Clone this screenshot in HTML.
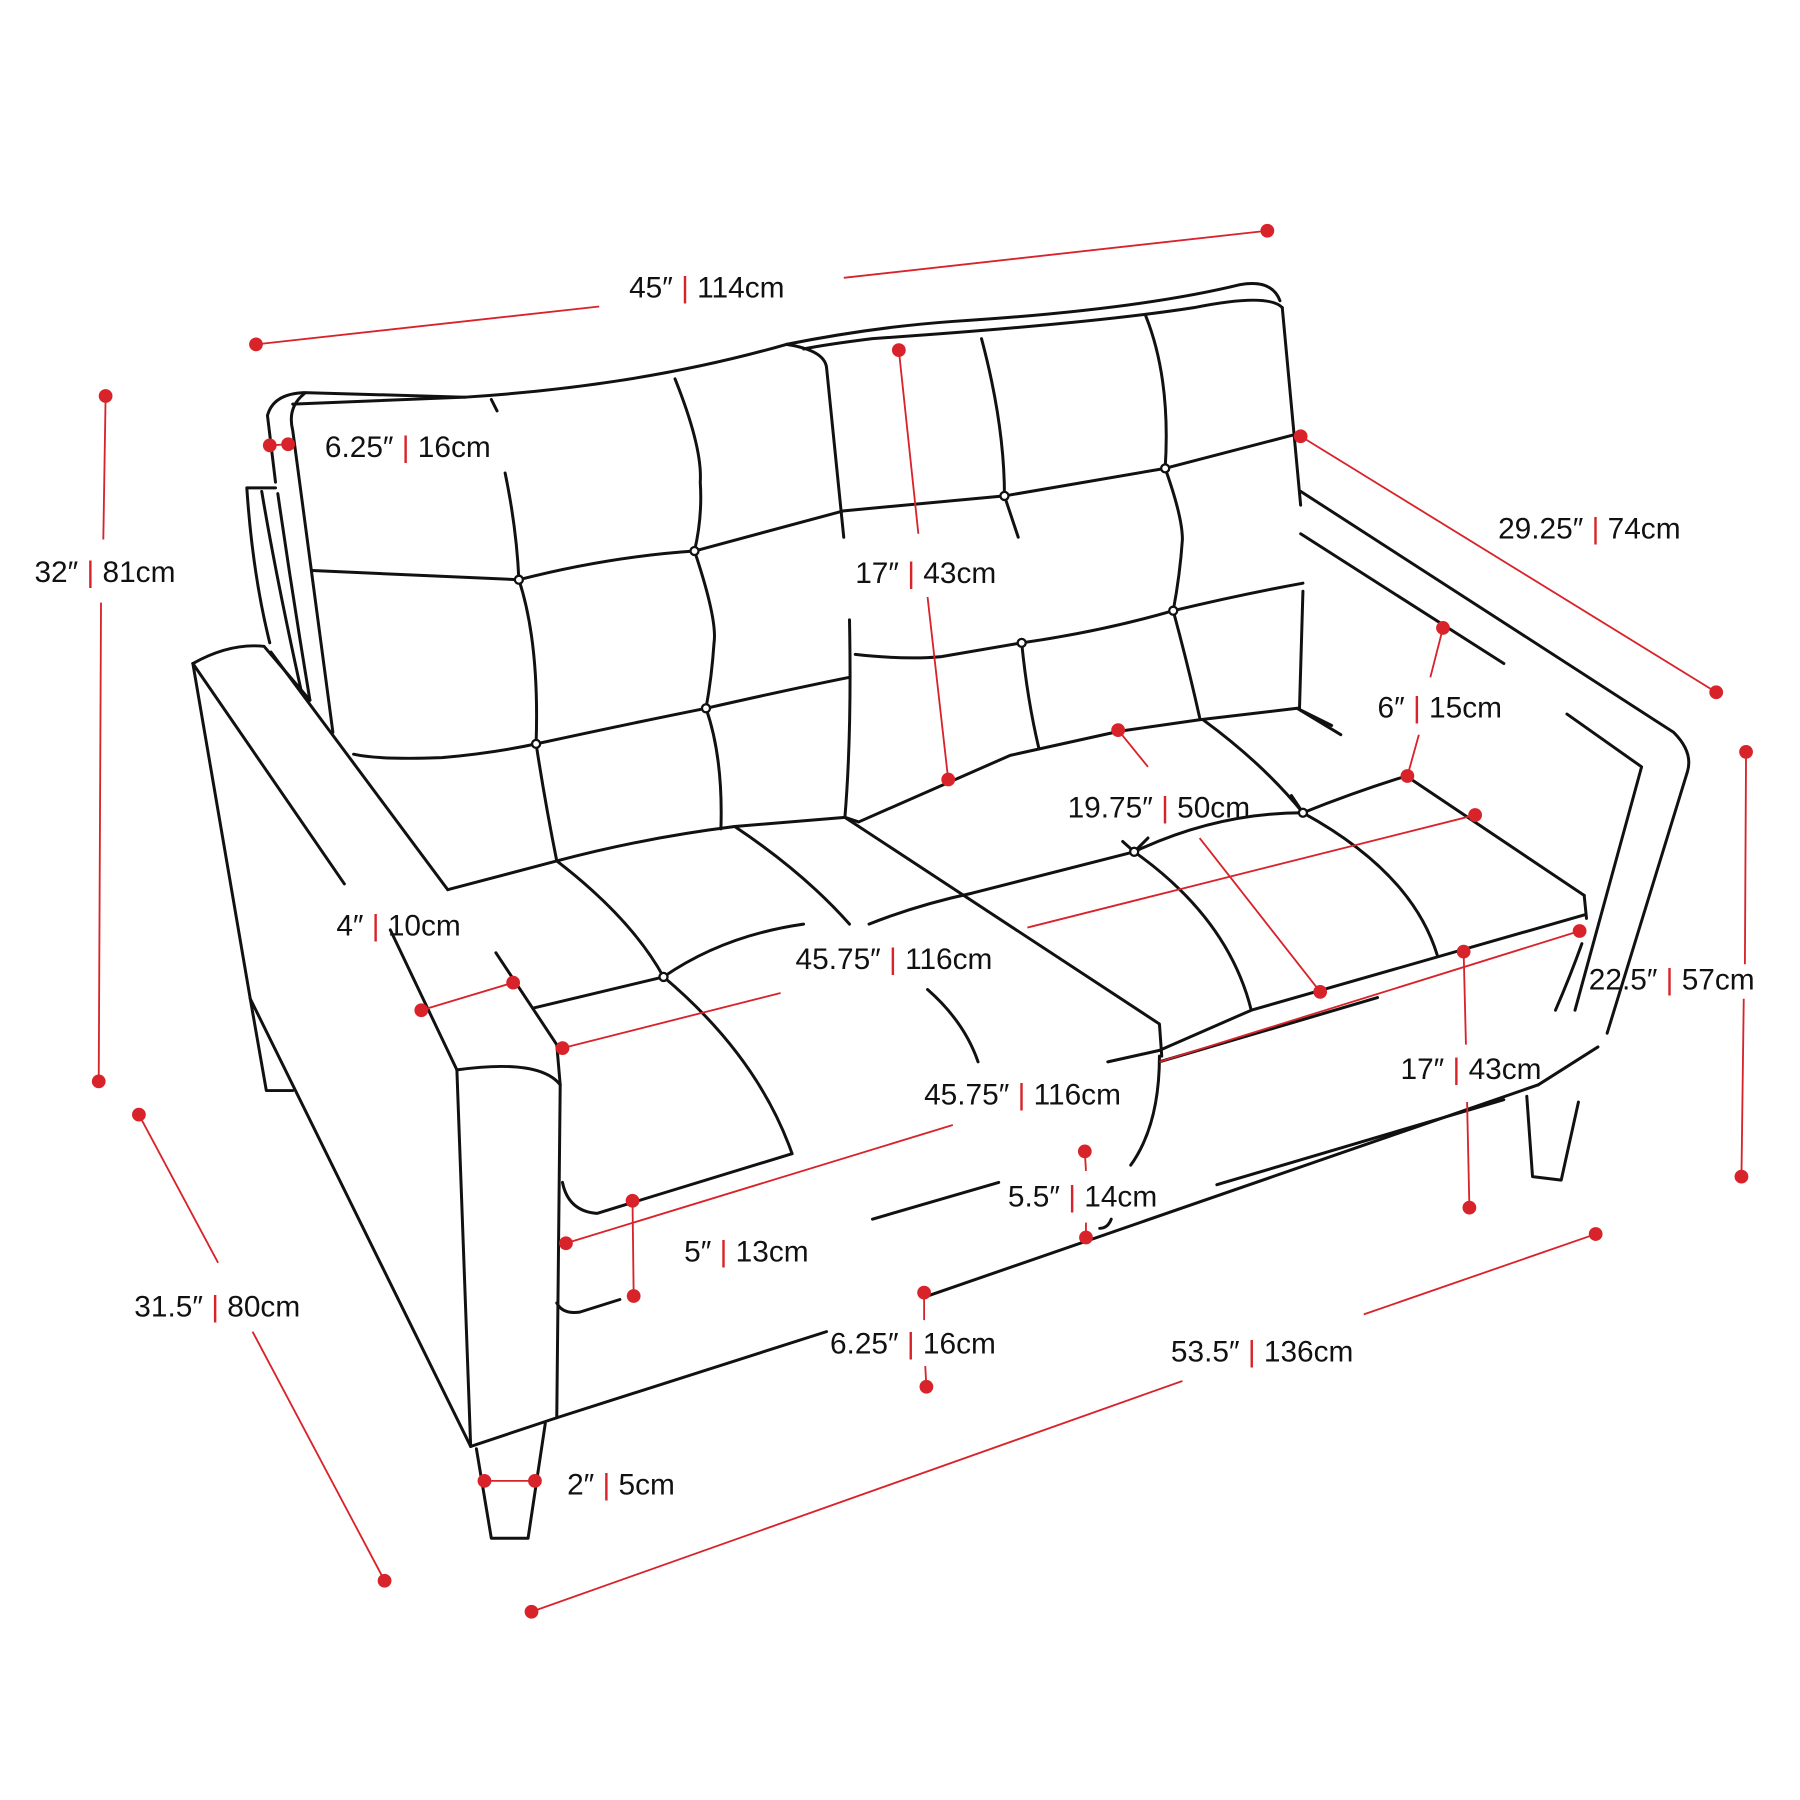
<!DOCTYPE html>
<html><head><meta charset="utf-8"><style>
html,body{margin:0;padding:0;background:#fff}
svg{display:block}
text{font-family:"Liberation Sans",sans-serif;font-size:26px;fill:#111}
.r{fill:#d8232a}
</style></head><body>
<svg width="1800" height="1800" viewBox="0 0 1568 1568" xmlns="http://www.w3.org/2000/svg">
<g fill="none" stroke="#111" stroke-width="2.6" stroke-linecap="round" stroke-linejoin="round">
<path d="M233,362 Q238,343 265,342 L405,346 Q560,336 685,300 Q760,285 830,280 Q990,270 1080,248 Q1108,243 1115,262"/>
<path d="M255,352 Q300,350 405,346 M700,304 Q720,300 760,295 Q950,282 1040,268 Q1105,255 1117,268"/>
<path d="M265,343 Q250,355 255,375 L290,638"/>
<path d="M233,362 L240,420"/>
<path d="M1117,268 L1133,440 M1135,515 L1132,617"/>
<path d="M685,300 Q718,305 720,320 L735,468 M740,540 Q742,640 736,712"/>
<path d="M215,425 L240,425 M215,425 Q220,500 235,560 M228,428 Q240,500 262,600 M242,430 Q255,520 270,610"/>
<path d="M272,497 L452,505 Q530,485 605,480 Q680,460 735,445 L875,432 L1015,408 L1130,378"/>
<path d="M308,657 Q330,662 385,660 Q430,656 467,648 Q550,630 615,617 Q690,600 740,590"/>
<path d="M745,570 Q790,575 820,572 L890,560 Q960,550 1022,532 Q1080,518 1135,508"/>
<path d="M428,348 L433,358 M440,412 Q450,460 452,505 Q470,560 467,648 Q475,700 485,750"/>
<path d="M588,330 Q612,390 610,420 Q612,450 605,480 Q625,540 622,560 Q620,590 615,617 Q630,660 628,722"/>
<path d="M855,295 Q875,370 875,432 L887,468 M890,560 Q895,610 905,652"/>
<path d="M998,275 Q1020,330 1015,408 Q1030,450 1030,470 Q1028,500 1022,532 Q1035,580 1045,625"/>
<path d="M390,775 L485,750 Q560,730 640,720 L736,712 L748,716 M748,716 L880,658 L975,637 L1045,627 L1130,617 L1168,640 M1225,676 L1380,780"/>
<path d="M1130,617 L1160,632"/>
<path d="M168,578 Q200,560 230,563 L270,610"/>
<path d="M168,578 L300,770 M340,810 L398,932"/>
<path d="M236,568 L390,775"/>
<path d="M432,830 L485,910 L488,945"/>
<path d="M168,578 L218,870 L232,950 L255,950"/>
<path d="M218,870 L410,1260"/>
<path d="M398,932 L410,1260"/>
<path d="M398,932 Q470,922 488,945 L485,1235"/>
<path d="M410,1260 L485,1235 L720,1160 M805,1130 L1340,945"/>
<path d="M415,1262 L428,1340 L460,1340 L475,1240"/>
<path d="M465,878 L578,851 M578,851 Q630,815 700,805"/>
<path d="M757,805 Q800,788 847,778 L988,742 M988,742 Q1060,708 1135,708 Q1180,690 1225,676"/>
<path d="M988,742 Q995,735 1000,730 M978,733 L988,742 M1125,693 L1135,708"/>
<path d="M485,750 Q550,800 578,851 Q660,920 690,1005"/>
<path d="M640,720 Q700,760 740,805"/>
<path d="M808,862 Q840,890 852,925"/>
<path d="M988,742 Q1070,800 1090,880"/>
<path d="M1048,627 Q1100,665 1135,708"/>
<path d="M1135,708 Q1230,760 1252,832"/>
<path d="M736,712 L1010,892 L1012,920 M1010,920 Q1010,980 985,1015"/>
<path d="M490,1030 Q495,1055 520,1057 L690,1005 M965,925 L1010,915 L1090,880 L1380,797"/>
<path d="M485,1135 Q490,1145 505,1143 L540,1132 M760,1062 L870,1030 M1060,1032 L1310,958"/>
<path d="M1010,925 L1200,869"/>
<path d="M958,1070 Q965,1070 968,1062"/>
<path d="M1133,428 L1458,638 Q1475,655 1470,672 L1400,900"/>
<path d="M1133,465 L1310,578 M1365,622 L1430,668 L1372,880"/>
<path d="M1380,780 L1382,800 M1378,822 Q1368,850 1355,880"/>
<path d="M1330,955 L1335,1025 L1360,1028 L1375,960"/>
<path d="M1340,945 L1392,912"/>
</g>
<g fill="#fff" stroke="#111" stroke-width="2">
<circle cx="452" cy="505" r="3.5"/><circle cx="605" cy="480" r="3.5"/><circle cx="875" cy="432" r="3.5"/><circle cx="1015" cy="408" r="3.5"/>
<circle cx="467" cy="648" r="3.5"/><circle cx="615" cy="617" r="3.5"/><circle cx="890" cy="560" r="3.5"/><circle cx="1022" cy="532" r="3.5"/>
<circle cx="578" cy="851" r="3.5"/><circle cx="988" cy="742" r="3.5"/><circle cx="1135" cy="708" r="3.5"/>
</g>
<g stroke="#d8232a" stroke-width="1.6" fill="none">
<path d="M223,300 L522,267 M735,242 L1104,201"/>
<path d="M92,345 L90,470 M88,525 L86,942"/>
<path d="M235,388 L251,387"/>
<path d="M783,305 L800,465 M808,520 L826,679"/>
<path d="M1133,380 L1495,603"/>
<path d="M1257,547 L1246,590 M1236,640 L1226,676"/>
<path d="M974,636 L1000,668 M1045,730 L1150,864"/>
<path d="M490,913 L680,865 M895,808 L1285,710"/>
<path d="M367,880 L447,856"/>
<path d="M493,1083 L830,980 M1010,925 L1376,811"/>
<path d="M1521,655 L1520,840 M1519,870 L1517,1025"/>
<path d="M1275,829 L1277,910 M1278,960 L1280,1052"/>
<path d="M945,1003 L946,1020 M946,1065 L946,1078"/>
<path d="M551,1046 L552,1129"/>
<path d="M805,1126 L805,1150 M806,1190 L807,1208"/>
<path d="M463,1404 L1030,1203 M1188,1145 L1390,1075"/>
<path d="M121,971 L190,1100 M220,1160 L335,1377"/>
<path d="M422,1290 L466,1290"/>
</g>
<g fill="#d8232a">
<circle cx="223" cy="300" r="6"/><circle cx="1104" cy="201" r="6"/>
<circle cx="92" cy="345" r="6"/><circle cx="86" cy="942" r="6"/>
<circle cx="235" cy="388" r="6"/><circle cx="251" cy="387" r="6"/>
<circle cx="783" cy="305" r="6"/><circle cx="826" cy="679" r="6"/>
<circle cx="1133" cy="380" r="6"/><circle cx="1495" cy="603" r="6"/>
<circle cx="1257" cy="547" r="6"/><circle cx="1226" cy="676" r="6"/>
<circle cx="974" cy="636" r="6"/><circle cx="1150" cy="864" r="6"/>
<circle cx="490" cy="913" r="6"/><circle cx="1285" cy="710" r="6"/>
<circle cx="367" cy="880" r="6"/><circle cx="447" cy="856" r="6"/>
<circle cx="493" cy="1083" r="6"/><circle cx="1376" cy="811" r="6"/>
<circle cx="1521" cy="655" r="6"/><circle cx="1517" cy="1025" r="6"/>
<circle cx="1275" cy="829" r="6"/><circle cx="1280" cy="1052" r="6"/>
<circle cx="945" cy="1003" r="6"/><circle cx="946" cy="1078" r="6"/>
<circle cx="551" cy="1046" r="6"/><circle cx="552" cy="1129" r="6"/>
<circle cx="805" cy="1126" r="6"/><circle cx="807" cy="1208" r="6"/>
<circle cx="463" cy="1404" r="6"/><circle cx="1390" cy="1075" r="6"/>
<circle cx="121" cy="971" r="6"/><circle cx="335" cy="1377" r="6"/>
<circle cx="422" cy="1290" r="6"/><circle cx="466" cy="1290" r="6"/>
</g>
<g>
<text x="548" y="259">45″ <tspan class="r">|</tspan> 114cm</text>
<text x="30" y="507">32″ <tspan class="r">|</tspan> 81cm</text>
<text x="283" y="398">6.25″ <tspan class="r">|</tspan> 16cm</text>
<text x="745" y="508">17″ <tspan class="r">|</tspan> 43cm</text>
<text x="1305" y="469">29.25″ <tspan class="r">|</tspan> 74cm</text>
<text x="1200" y="625">6″ <tspan class="r">|</tspan> 15cm</text>
<text x="930" y="712">19.75″ <tspan class="r">|</tspan> 50cm</text>
<text x="293" y="815">4″ <tspan class="r">|</tspan> 10cm</text>
<text x="693" y="844">45.75″ <tspan class="r">|</tspan> 116cm</text>
<text x="1384" y="862">22.5″ <tspan class="r">|</tspan> 57cm</text>
<text x="805" y="962">45.75″ <tspan class="r">|</tspan> 116cm</text>
<text x="1220" y="940">17″ <tspan class="r">|</tspan> 43cm</text>
<text x="878" y="1051">5.5″ <tspan class="r">|</tspan> 14cm</text>
<text x="596" y="1099">5″ <tspan class="r">|</tspan> 13cm</text>
<text x="117" y="1147">31.5″ <tspan class="r">|</tspan> 80cm</text>
<text x="723" y="1179">6.25″ <tspan class="r">|</tspan> 16cm</text>
<text x="1020" y="1186">53.5″ <tspan class="r">|</tspan> 136cm</text>
<text x="494" y="1302">2″ <tspan class="r">|</tspan> 5cm</text>
</g>
</svg>
</body></html>
